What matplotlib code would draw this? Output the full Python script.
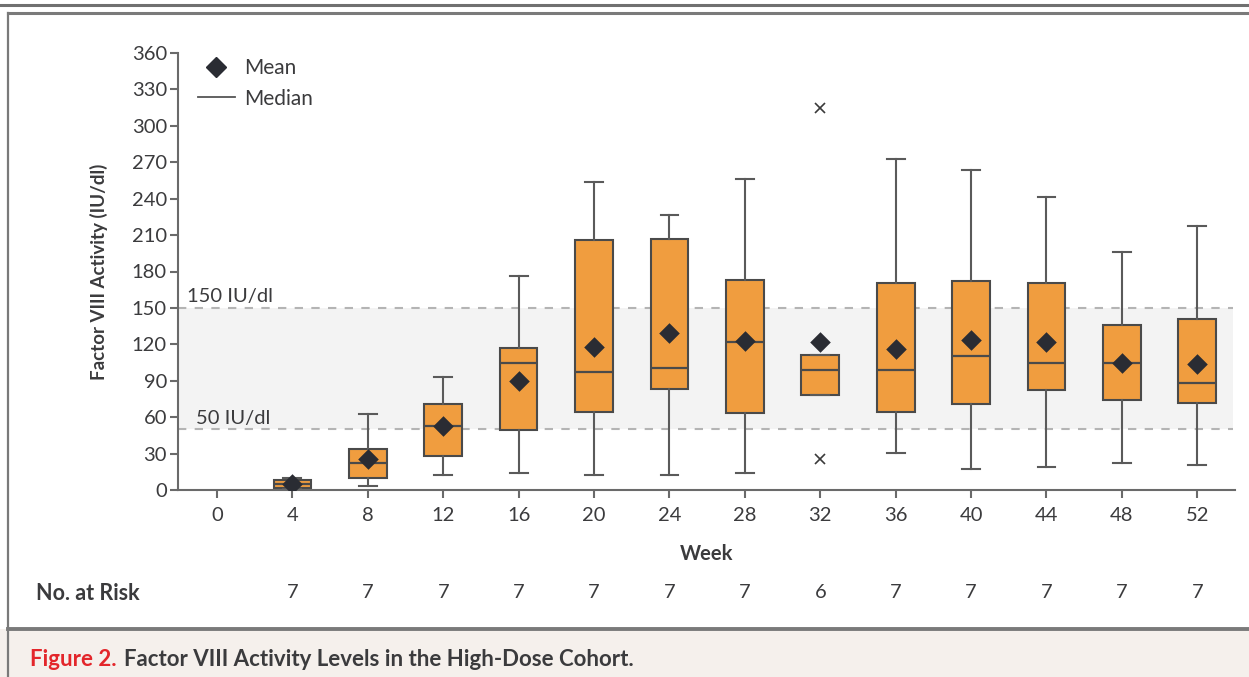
import matplotlib.pyplot as plt
from matplotlib.lines import Line2D
from matplotlib.patches import Rectangle
from matplotlib.transforms import blended_transform_factory

plt.rcParams['font.family'] = ['Lato', 'DejaVu Sans']

# Box-plot summaries of factor VIII activity (IU/dl) by week
weeks = [4, 8, 12, 16, 20, 24, 28, 32, 36, 40, 44, 48, 52]
whisker_low = [1.0, 3.3, 12.4, 14.0, 12.0, 12.0, 14.3, 78.0, 30.7, 17.0, 19.2, 22.0, 20.3]
q1 = [1.6, 9.6, 27.7, 49.4, 64.0, 83.0, 63.4, 78.0, 64.2, 71.1, 82.1, 73.9, 71.4]
medians = [5.0, 22.2, 52.4, 104.6, 97.0, 100.5, 121.7, 98.8, 99.1, 110.4, 104.3, 104.9, 88.4]
q3 = [8.2, 33.8, 71.0, 117.0, 206.0, 207.0, 172.7, 111.0, 170.5, 172.2, 170.2, 135.9, 140.6]
whisker_high = [10.0, 62.6, 93.3, 176.0, 254.0, 226.5, 256.4, 111.0, 272.6, 263.9, 241.6, 195.8, 217.2]
means = [5.0, 25.3, 53.0, 90.0, 118.0, 129.0, 123.0, 121.7, 115.9, 123.6, 121.9, 105.0, 103.5]
outliers = [[], [], [], [], [], [], [], [315.0, 25.5], [], [], [], [], []]
at_risk = [7, 7, 7, 7, 7, 7, 7, 6, 7, 7, 7, 7, 7]
x_ticks = [0, 4, 8, 12, 16, 20, 24, 28, 32, 36, 40, 44, 48, 52]
y_ticks = list(range(0, 361, 30))

text_color = '#3b3b3d'
axis_color = '#6a6a6a'
box_color = '#f09d3f'
edge_color = '#4a4a4a'

W, H = 1249, 677
fig = plt.figure(figsize=(W / 100, H / 100), dpi=100)
fig.patch.set_facecolor('white')

ax = fig.add_axes([178 / W, 1 - 490 / H, (1235 - 178) / W, (490 - 53) / H])
ax.set_xlim(-2.07, 54.0)
ax.set_ylim(0, 360)

# target range band
ax.axhspan(50, 150, xmin=0, xmax=0.998, color='#f3f3f3', zorder=0, lw=0)
for level in (50, 150):
    ax.plot([-2.07, 53.9], [level, level], color='#b4b4b4', lw=1.5,
            dashes=(4, 4), zorder=1)
ax.text(-1.6, 152, '150 IU/dl', fontsize=14.5, color=text_color, va='bottom')
ax.text(-1.1, 52, '50 IU/dl', fontsize=14.5, color=text_color, va='bottom')

stats = []
for i in range(len(weeks)):
    stats.append({
        'whislo': whisker_low[i], 'q1': q1[i], 'med': medians[i],
        'q3': q3[i], 'whishi': whisker_high[i], 'fliers': outliers[i],
    })

ax.bxp(stats, positions=weeks, widths=2.0, capwidths=0.95,
       patch_artist=True, showfliers=True, manage_ticks=False,
       boxprops=dict(facecolor=box_color, edgecolor=edge_color, linewidth=1.5),
       medianprops=dict(color=edge_color, linewidth=1.6),
       whiskerprops=dict(color='#5a5a5a', linewidth=1.5),
       capprops=dict(color='#5a5a5a', linewidth=1.5),
       flierprops=dict(marker='x', markersize=7, markeredgecolor='#3a3a3a',
                       markeredgewidth=1.2, linestyle='none'),
       zorder=2)

ax.scatter(weeks, means, marker='D', s=110, color='#2a2c33', zorder=4, lw=0)

# axes styling
for side in ('top', 'right'):
    ax.spines[side].set_visible(False)
for side in ('left', 'bottom'):
    ax.spines[side].set_color(axis_color)
    ax.spines[side].set_linewidth(1.5)
ax.set_xticks(x_ticks)
ax.set_yticks(y_ticks)
ax.tick_params(axis='both', colors=axis_color, width=1.5, length=6,
               labelsize=14.5, labelcolor=text_color)
ax.tick_params(axis='x', pad=6)
ax.tick_params(axis='y', pad=2)

ax.set_ylabel('Factor VIII Activity (IU/dl)', fontsize=13.5, fontweight='bold',
              color=text_color, labelpad=17)
ax.set_xlabel('Week', fontsize=14.5, fontweight='bold', color=text_color,
              labelpad=15)

handles = [
    Line2D([], [], marker='D', color='#2a2c33', linestyle='none', markersize=10),
    Line2D([], [], color='#555555', lw=1.3),
]
ax.legend(handles, ['Mean', 'Median'], loc='upper left',
          bbox_to_anchor=(0.019, 0.988), frameon=False, fontsize=15,
          borderpad=0, borderaxespad=0, handlelength=1.75, handletextpad=0.45,
          labelspacing=0.5, labelcolor=text_color)

# number at risk row
risk_tf = blended_transform_factory(ax.transData, fig.transFigure)
for wk, n in zip(weeks, at_risk):
    ax.text(wk, 1 - 593 / H, str(n), transform=risk_tf, ha='center',
            va='center', fontsize=14.5, color=text_color, clip_on=False)
fig.text(36 / W, 1 - 593 / H, 'No. at Risk', fontsize=15.5, fontweight='bold',
         color=text_color, va='center')

# page frame and caption band
fig.add_artist(Rectangle((0, 0), 1, 1 - 629 / H, transform=fig.transFigure,
                         facecolor='#f5f0ec', edgecolor='none', zorder=0))
fig.add_artist(Line2D([0, 1], [1 - 5 / H] * 2, color='#707070', lw=2.2,
                      transform=fig.transFigure))
fig.add_artist(Line2D([8 / W, 1], [1 - 12.5 / H] * 2, color='#7a7a7a', lw=2.2,
                      transform=fig.transFigure))
fig.add_artist(Line2D([8 / W, 8 / W], [0, 1 - 12.5 / H], color='#7a7a7a', lw=1.6,
                      transform=fig.transFigure))
fig.add_artist(Line2D([8 / W, 1], [1 - 629 / H] * 2, color='#7a7a7a', lw=2.8,
                      transform=fig.transFigure))

cap_y = 1 - 660 / H
t1 = fig.text(30 / W, cap_y, 'Figure 2.', fontsize=16, fontweight='bold',
              color='#e3262b', va='center')
fig.canvas.draw()
bb = t1.get_window_extent()
fig.text(bb.x1 / W + 7 / W, cap_y, 'Factor VIII Activity Levels in the High-Dose Cohort.',
         fontsize=16, fontweight='bold', color=text_color, va='center')

fig.savefig('out.png', dpi=100)
